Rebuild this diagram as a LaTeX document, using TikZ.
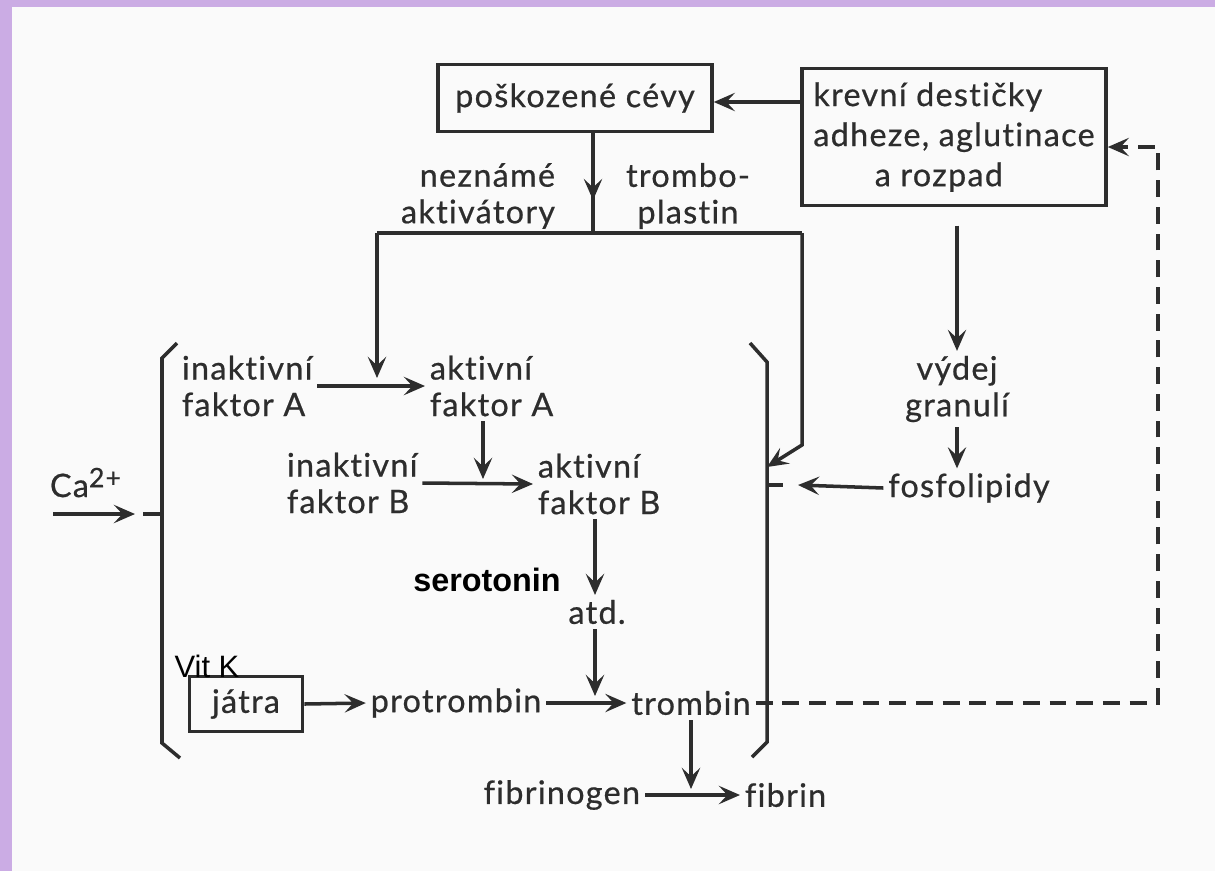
\documentclass[tikz,border=0pt]{standalone}
\usepackage{fontspec}
\setmainfont{Lato}[Ligatures=NoCommon, LetterSpace=4, FakeBold=0.6]
\newfontfamily\arialfont{Liberation Sans}
\usetikzlibrary{arrows.meta, decorations.markings}

\definecolor{ink}{RGB}{45,45,45}
\definecolor{lavender}{RGB}{203,172,228}
\definecolor{paper}{RGB}{250,250,250}

\begin{document}
\begin{tikzpicture}[x=0.025cm, y=-0.025cm,
    every node/.style={font=\fontsize{23}{26}\selectfont, text=ink},
    line/.style={ink, line width=2.5pt},
    arr/.style={line, -{Stealth[length=15pt, width=13pt, inset=6pt]}},
    fb/.style={arr, dash pattern=on 12pt off 7pt},
    box/.style={draw=ink, line width=2.5pt, inner sep=0pt},
    midarr/.style={line, postaction={decorate},
      decoration={markings, mark=at position #1 with {\arrow{Stealth[length=15pt, width=13pt, inset=6pt]}}}},
    added/.style={font=\arialfont\fontsize{22}{24}\selectfont, text=black}]

    % Hintergrund
    \useasboundingbox (0,0) rectangle (1215,871);
    \fill[paper] (0,0) rectangle (1215,871);
    \fill[lavender] (0,0) rectangle (12,871);
    \fill[lavender] (0,0) rectangle (1215,7);

    % Rámečky
    \node[box, minimum width=6.85cm, minimum height=1.675cm] (cevy) at (575,98) {poškozené cévy};
    \node[box, minimum width=7.6cm, minimum height=3.425cm, align=left,
          font=\fontsize{23}{28.5}\selectfont] (krev) at (954,137) {krevní destičky\\adheze, aglutinace\\\hspace*{1.9em}a rozpad};
    \node[box, minimum width=2.825cm, minimum height=1.375cm] (jatra) at (246,704) {játra};

    % Texty
    \node[anchor=east, align=right] (nezn) at (560,196) {neznámé\\aktivátory};
    \node[align=center] (plast) at (688,196) {trombo-\\plastin};
    \node[anchor=west, align=left] (inA) at (177,386) {inaktivní\\faktor A};
    \node[anchor=west, align=left] (akA) at (425,386) {aktivní\\faktor A};
    \node[anchor=west, align=left] (inB) at (282,483) {inaktivní\\faktor B};
    \node[anchor=west, align=left] (akB) at (533,484) {aktivní\\faktor B};
    \node[added, font=\arialfont\bfseries\fontsize{23}{24}\selectfont] (sero) at (487,580) {serotonin};
    \node (atd) at (597,612) {atd.};
    \node[added] (vitk) at (207,666) {Vit K};
    \node (protr) at (456,703) {protrombin};
    \node (trombin) at (691,703) {trombin};
    \node[anchor=east] (fbg) at (645,795) {fibrinogen};
    \node[anchor=west] (fibrin) at (740,795) {fibrin};
    \node[anchor=base west] (ca) at (45,497) {Ca\raisebox{0.6ex}{\fontsize{19}{19}\selectfont 2+}};
    \node[align=center] (vydej) at (957,389) {výdej\\granulí};
    \node (fosfo) at (969,488) {fosfolipidy};

    % Body
    \coordinate (kc) at (802,102);
    \coordinate (j) at (593,233);
    \coordinate (jl) at (377,233);
    \coordinate (jr) at (802,233);
    \coordinate (pA) at (377,378);
    \coordinate (bend) at (802,445);
    \coordinate (rb) at (767,467);
    \coordinate (pB) at (483,479);
    \coordinate (pT) at (595,696);
    \coordinate (pF) at (691,789);
    \coordinate (caL) at (53,514);
    \coordinate (caR) at (135,514);
    \coordinate (caD) at (143,514);
    \coordinate (lb) at (162,514);
    \coordinate (fsR) at (798,485);
    \coordinate (rd) at (783,485);
    \coordinate (rbr) at (767,485);
    \coordinate (fbt) at (1158,147);

    % Závorky
    \draw[line] (177,343) -- (162,358) -- (162,743) -- (180,758);
    \draw[line] (750,343) -- (767,362) -- (767,742) -- (752,757);

    % Šipky
    \draw[arr] (kc) -- (kc -| cevy.east);
    \draw[midarr=0.67] (cevy.south -| j) -- (j);
    \draw[line] (jl) -- (jr);
    \draw[arr] (jl) -- (pA);
    \draw[arr] (jr) -- (bend) -- (rb);
    \draw[arr] (inA.east) -- (akA.west);
    \draw[arr] (akA.south -| pB) -- (pB);
    \draw[arr] (inB.east) -- (akB.west);
    \draw[arr] (akB.south -| pT) -- (atd.north -| pT);
    \draw[arr] (atd.south -| pT) -- (pT);
    \draw[arr] (jatra.east) -- (protr.west);
    \draw[arr] (protr.east) -- (trombin.west);
    \draw[arr] (trombin.south) -- (pF);
    \draw[arr] (fbg.east) -- (fibrin.west);
    \draw[arr] (caL) -- (caR);
    \draw[line] (caD) -- (lb);
    \draw[arr, shorten <=13pt] (krev.south -| vydej.north) -- (vydej.north);
    \draw[arr] (vydej.south) -- (vydej.south |- fosfo.north);
    \draw[arr] (fosfo.west) -- (fsR);
    \draw[line] (rbr) -- (rd);

    % zpětná vazba
    \draw[fb] (trombin.east) -| (fbt) -- (fbt -| krev.east);
\end{tikzpicture}
\end{document}
